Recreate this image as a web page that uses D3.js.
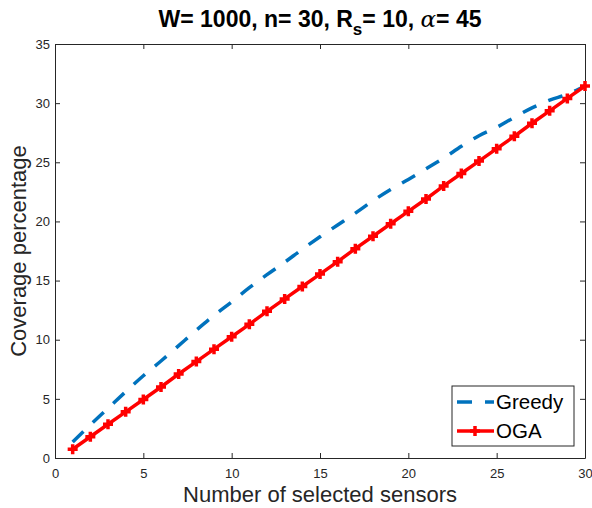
<!DOCTYPE html>
<html><head><meta charset="utf-8">
<script src="https://cdn.jsdelivr.net/npm/d3@7"></script>
<style>body{margin:0;background:#fff}svg{display:block}text{font-family:"Liberation Sans",Arial,sans-serif}</style>
</head><body>
<script>
const sensors = d3.range(1, 31);
const greedy = [1.35,2.8,4.2,5.6,6.95,8.2,9.5,10.8,12.05,13.2,14.4,15.5,16.55,17.65,18.7,19.7,20.7,21.75,22.7,23.55,24.45,25.35,26.35,27.25,27.95,28.8,29.6,30.25,30.75,31.45];
const oga = [0.74,1.8,2.85,3.9,4.95,6.0,7.1,8.15,9.2,10.25,11.3,12.4,13.45,14.5,15.55,16.6,17.7,18.75,19.8,20.85,21.9,23.0,24.05,25.1,26.15,27.2,28.3,29.35,30.4,31.45];
const xTicks = [0,5,10,15,20,25,30];
const yTicks = [0,5,10,15,20,25,30,35];

const W = 592, H = 508;
const m = {l:55, r:585, t:44, b:458};
const svg = d3.select("body").append("svg").attr("width", W).attr("height", H);
const x = d3.scaleLinear().domain([0,30]).range([m.l, m.r]);
const y = d3.scaleLinear().domain([0,35]).range([m.b, m.t]);
const axCol = "#262626";

// axes
const gx = svg.append("g").attr("transform", `translate(0,${m.b})`)
  .call(d3.axisBottom(x).tickValues(xTicks).tickSizeInner(-5).tickSizeOuter(0).tickPadding(11));
const gxt = svg.append("g").attr("transform", `translate(0,${m.t})`)
  .call(d3.axisTop(x).tickValues(xTicks).tickSizeInner(-5).tickSizeOuter(0).tickFormat(""));
const gy = svg.append("g").attr("transform", `translate(${m.l},0)`)
  .call(d3.axisLeft(y).tickValues(yTicks).tickSizeInner(-5).tickSizeOuter(0).tickPadding(5));
const gyr = svg.append("g").attr("transform", `translate(${m.r},0)`)
  .call(d3.axisRight(y).tickValues(yTicks).tickSizeInner(-5).tickSizeOuter(0).tickFormat(""));
[gx,gxt,gy,gyr].forEach(g=>{
  g.selectAll("path,line").attr("stroke", axCol).attr("stroke-width",1);
  g.selectAll("text").attr("fill", axCol).style("font-size","13px").style("font-family",'"Liberation Sans",Arial,sans-serif');
});

// lines
const lineG = d3.line().x((d,i)=>x(sensors[i])).y(d=>y(d)).curve(d3.curveMonotoneX);
const lineO = d3.line().x((d,i)=>x(sensors[i])).y(d=>y(d));
svg.append("path").datum(greedy).attr("d", lineG).attr("fill","none")
  .attr("stroke","#0072BD").attr("stroke-width",3.5).attr("stroke-dasharray","15,13");
svg.append("path").datum(oga).attr("d", lineO).attr("fill","none")
  .attr("stroke","#FF0000").attr("stroke-width",3.5);
const plus = "M-5,0H5M0,-5V5";
svg.append("g").selectAll("path").data(oga).join("path")
  .attr("transform",(d,i)=>`translate(${x(sensors[i])},${y(d)})`)
  .attr("d", plus).attr("stroke","#FF0000").attr("stroke-width",3.5).attr("fill","none");

// title
const t = svg.append("text").attr("x", (m.l+m.r)/2).attr("y", 27).attr("text-anchor","middle")
  .style("font-size","23px").style("font-weight","bold").attr("fill","#000");
t.append("tspan").text("W= 1000, n= 30, R");
t.append("tspan").attr("dy",8).style("font-size","17px").text("s");
t.append("tspan").attr("dy",-8).text("= 10, ");
t.append("tspan").style("font-family",'"DejaVu Serif",serif').style("font-style","italic").style("font-weight","normal").text("α");
t.append("tspan").text("= 45");

// axis labels
svg.append("text").attr("x",(m.l+m.r)/2).attr("y",502).attr("text-anchor","middle")
  .style("font-size","22px").attr("fill",axCol).text("Number of selected sensors");
svg.append("text").attr("transform",`translate(26,${(m.t+m.b)/2}) rotate(-90)`).attr("text-anchor","middle")
  .style("font-size","22px").attr("fill",axCol).text("Coverage percentage");

// legend
const lg = svg.append("g");
lg.append("rect").attr("x",452).attr("y",386).attr("width",122).attr("height",60)
  .attr("fill","#fff").attr("stroke",axCol).attr("stroke-width",1);
lg.append("line").attr("x1",457).attr("x2",494).attr("y1",402).attr("y2",402)
  .attr("stroke","#0072BD").attr("stroke-width",3.5).attr("stroke-dasharray","15,13");
lg.append("line").attr("x1",457).attr("x2",494).attr("y1",431).attr("y2",431)
  .attr("stroke","#FF0000").attr("stroke-width",3.5);
lg.append("path").attr("transform","translate(475,431)").attr("d",plus)
  .attr("stroke","#FF0000").attr("stroke-width",3.5);
lg.append("text").attr("x",496).attr("y",409).style("font-size","20.5px").attr("fill","#000").text("Greedy");
lg.append("text").attr("x",496).attr("y",438).style("font-size","20.5px").attr("fill","#000").text("OGA");
</script>
</body></html>
